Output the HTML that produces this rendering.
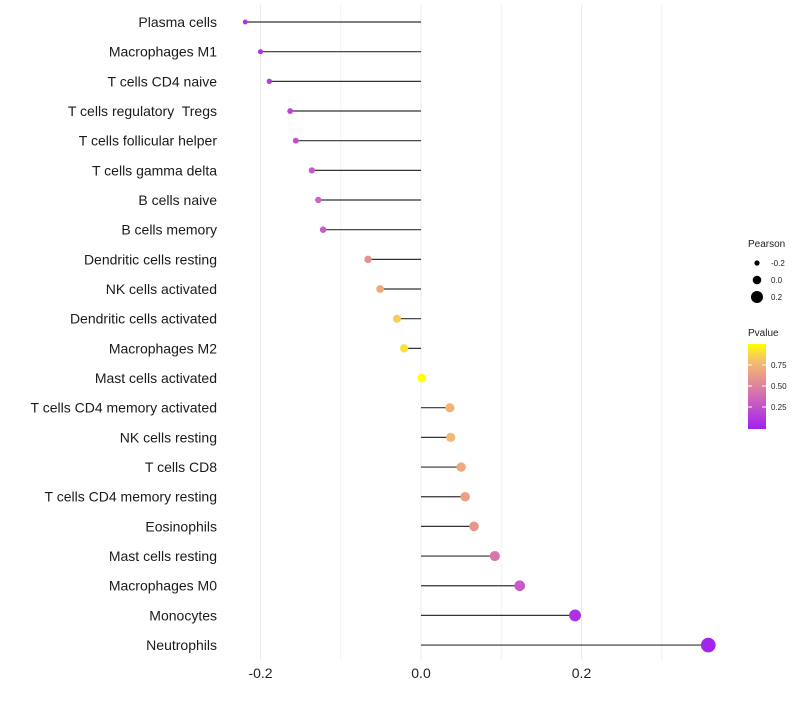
<!DOCTYPE html>
<html><head><meta charset="utf-8"><style>
body{margin:0;background:#fff;font-family:"Liberation Sans",sans-serif;}
svg text{font-family:"Liberation Sans",sans-serif;white-space:pre;}
</style></head><body>
<svg id="chart" width="800" height="700"></svg>
<script>
const categories=["Plasma cells","Macrophages M1","T cells CD4 naive","T cells regulatory  Tregs","T cells follicular helper","T cells gamma delta","B cells naive","B cells memory","Dendritic cells resting","NK cells activated","Dendritic cells activated","Macrophages M2","Mast cells activated","T cells CD4 memory activated","NK cells resting","T cells CD8","T cells CD4 memory resting","Eosinophils","Mast cells resting","Macrophages M0","Monocytes","Neutrophils"];
const pearson=[-0.219,-0.2,-0.189,-0.163,-0.156,-0.136,-0.128,-0.122,-0.066,-0.051,-0.030,-0.021,0.001,0.036,0.037,0.050,0.055,0.066,0.092,0.123,0.192,0.358];
const pvalue=[0.1,0.12,0.15,0.2,0.25,0.3,0.35,0.32,0.58,0.7,0.85,0.9,1.0,0.75,0.78,0.7,0.65,0.6,0.45,0.3,0.1,0.02];
const xTicks=[-0.2,0,0.2];
const xTickLabels=["-0.2","0.0","0.2"];
const minorTicks=[-0.1,0.1,0.3];
const svg=document.getElementById('chart');
const NS="http://www.w3.org/2000/svg";
const x=v=>421+v*802.5;
const y=i=>22+i*29.67;
const rad=v=>4.3+8.5*v;
const stops=[[0,[160,32,240]],[0.35,[205,100,190]],[0.6,[230,150,140]],[0.8,[245,190,110]],[1,[255,255,0]]];
function col(p){for(let k=1;k<stops.length;k++){if(p<=stops[k][0]){const a=stops[k-1],b=stops[k];const t=(p-a[0])/(b[0]-a[0]);return 'rgb('+a[1].map((c,j)=>Math.round(c+(b[1][j]-c)*t)).join(',')+')';}}return 'rgb(255,255,0)';}
function mk(t,at){const e=document.createElementNS(NS,t);for(const k in at)e.setAttribute(k,at[k]);svg.appendChild(e);return e;}
minorTicks.forEach(v=>{const l=mk('line',{x1:x(v),x2:x(v),y1:5,y2:660,stroke:'#f2f2f2','stroke-width':1});

});
xTicks.forEach((v,i)=>{const l=mk('line',{x1:x(v),x2:x(v),y1:5,y2:660,stroke:'#ebebeb','stroke-width':1});


const t=mk('text',{x:x(v),y:678,'text-anchor':'middle','font-size':14,fill:'#222'});t.textContent=xTickLabels[i];

});
categories.forEach((c,i)=>{
const t=mk('text',{x:217,y:y(i)+5,'text-anchor':'end','font-size':14,fill:'#1a1a1a'});t.textContent=c;


const l=mk('line',{x1:x(0),x2:x(pearson[i]),y1:y(i),y2:y(i),stroke:'#333','stroke-width':1.2});


const d=mk('circle',{cx:x(pearson[i]),cy:y(i),r:rad(pearson[i]),fill:col(pvalue[i])});


});
const lt=mk('text',{x:748,y:247,'font-size':10,fill:'#222'});lt.textContent='Pearson';


[[-0.2,263],[0,280],[0.2,297]].forEach(([v,yy])=>{const c=mk('circle',{cx:757,cy:yy,r:rad(v),fill:'#000'});


const t=mk('text',{x:771,y:yy+3,'font-size':8,fill:'#222'});t.textContent=v===0?'0.0':String(v);

});
const pt=mk('text',{x:748,y:336,'font-size':10,fill:'#222'});pt.textContent='Pvalue';


const defs=mk('defs',{});
const g=document.createElementNS(NS,'linearGradient');g.setAttribute('id','pg');g.setAttribute('x1','0');g.setAttribute('y1','1');g.setAttribute('x2','0');g.setAttribute('y2','0');defs.appendChild(g);
stops.forEach(s=>{const st=document.createElementNS(NS,'stop');st.setAttribute('offset',s[0]);st.setAttribute('stop-color','rgb('+s[1].join(',')+')');g.appendChild(st);});
const cb=mk('rect',{x:748,y:344,width:18,height:85,fill:'url(#pg)'});


[[0.75,365],[0.5,386],[0.25,407]].forEach(([v,yy])=>{mk('line',{x1:748,x2:752,y1:yy,y2:yy,stroke:'#fff'});mk('line',{x1:762,x2:766,y1:yy,y2:yy,stroke:'#fff'});
const t=mk('text',{x:771,y:yy+3,'font-size':8,fill:'#222'});t.textContent=v.toFixed(2);

});
</script>
</body></html>
